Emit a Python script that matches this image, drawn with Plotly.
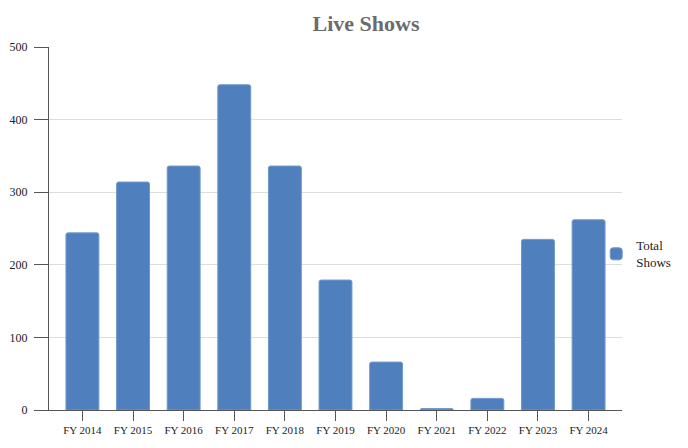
import plotly.graph_objects as go

categories = ["FY 2014", "FY 2015", "FY 2016", "FY 2017", "FY 2018", "FY 2019",
              "FY 2020", "FY 2021", "FY 2022", "FY 2023", "FY 2024"]
total_shows = [244, 314, 336, 448, 336, 179, 66, 2, 16, 235, 262]
y_ticks = [0, 100, 200, 300, 400, 500]

serif = "Liberation Serif, Times New Roman, serif"

fig = go.Figure()
fig.add_trace(go.Bar(
    x=categories, y=total_shows, name="Total<br>Shows",
    width=0.65,
    marker=dict(color="#4f80bd", line=dict(color="#6e98cc", width=1), cornerradius=2),
))

W, H = 680, 440
fig.update_layout(
    width=W, height=H,
    margin=dict(l=41, r=59, t=39, b=38),
    paper_bgcolor="white", plot_bgcolor="white",
    title=dict(text="<b>Live Shows</b>", x=358/W, xanchor="center", y=1 - 15/H, yanchor="middle",
               font=dict(family=serif, size=22, color="#6b6b6b")),
    font=dict(family=serif, size=11, color="#222222"),
    showlegend=True,
    legend=dict(x=0.955, xanchor="left", y=0.43, yanchor="middle",
                font=dict(family=serif, size=13, color="#222222"),
                bgcolor="rgba(0,0,0,0)"),
)
fig.update_xaxes(
    type="category", range=[-0.66, 10.66], automargin=False,
    showline=True, linecolor="#555555", linewidth=1,
    ticks="outside", ticklen=10, tickcolor="#555555",
    showgrid=False, tickfont=dict(family=serif, size=11, color="#222222"),
)
fig.update_yaxes(
    range=[0, 500], tickvals=y_ticks, automargin=False,
    showline=True, linecolor="#555555", linewidth=1,
    ticks="outside", ticklen=14, tickcolor="#555555",
    ticklabelstandoff=4,
    showgrid=True, gridcolor="#dddddd", gridwidth=1,
    zeroline=False,
    tickfont=dict(family=serif, size=12, color="#222222"),
)

fig.write_html("out.html")
